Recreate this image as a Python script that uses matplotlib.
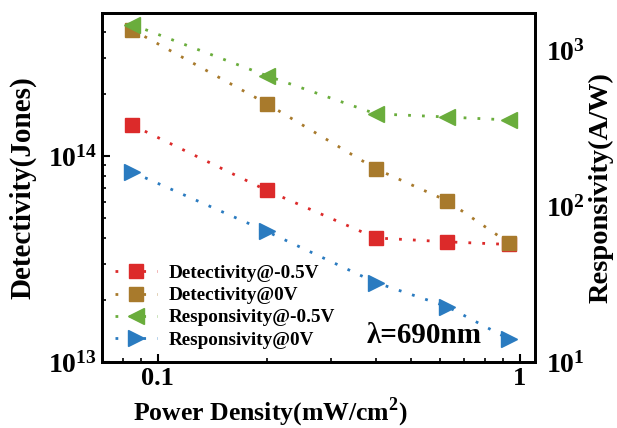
import matplotlib.pyplot as plt
from matplotlib.ticker import LogLocator, NullFormatter

plt.rcParams['font.family'] = ['Liberation Serif', 'DejaVu Serif']
plt.rcParams['font.weight'] = 'bold'
plt.rcParams['mathtext.fontset'] = 'custom'
plt.rcParams['mathtext.rm'] = 'Liberation Serif:bold'
plt.rcParams['mathtext.bf'] = 'Liberation Serif:bold'

# data
power = [0.085, 0.2, 0.4, 0.63, 0.93]
det_m05 = [1.41e14, 6.8e13, 4.0e13, 3.83e13, 3.72e13]
det_0 = [4.09e14, 1.79e14, 8.65e13, 6.05e13, 3.79e13]
res_m05 = [1470, 690, 393, 375, 359]
res_0 = [166, 69, 32.4, 22.7, 14.1]

red = '#dc2a2a'
brown = '#a87a2c'
green = '#6aad3c'
blue = '#2a7bc0'
dots = (0, (1, 4))

fig = plt.figure(figsize=(6.17, 4.28), dpi=100)
ax = fig.add_axes([0.165, 0.154, 0.702, 0.816])
ax2 = ax.twinx()

l1, = ax.plot(power, det_m05, linestyle=dots, lw=2, color=red, marker='s',
              markersize=10, label='Detectivity@-0.5V')
l2, = ax.plot(power, det_0, linestyle=dots, lw=2, color=brown, marker='s',
              markersize=10, label='Detectivity@0V')
l3, = ax2.plot(power, res_m05, linestyle=dots, lw=2, color=green, marker='<',
               markersize=12, label='Responsivity@-0.5V')
l4, = ax2.plot(power, res_0, linestyle=dots, lw=2, color=blue, marker='>',
               markersize=12, label='Responsivity@0V')

ax.set_xscale('log')
ax.set_yscale('log')
ax2.set_yscale('log')
ax.set_xlim(0.07, 1.1)
ax.set_ylim(1e13, 4.94e14)
ax2.set_ylim(10, 1750)

ax.set_xticks([0.1, 1])
ax.set_xticklabels(['0.1', '1'])
ax.xaxis.set_minor_locator(LogLocator(base=10, subs=range(2, 10)))
ax.xaxis.set_minor_formatter(NullFormatter())
ax.set_yticks([1e13, 1e14])
ax.set_yticklabels([r'$\mathbf{10^{13}}$', r'$\mathbf{10^{14}}$'])
ax.yaxis.set_minor_locator(LogLocator(base=10, subs=range(2, 10)))
ax.yaxis.set_minor_formatter(NullFormatter())
ax2.set_yticks([10, 100, 1000])
ax2.set_yticklabels([r'$\mathbf{10^{1}}$', r'$\mathbf{10^{2}}$', r'$\mathbf{10^{3}}$'])
ax2.yaxis.set_minor_formatter(NullFormatter())

ax.tick_params(which='major', direction='in', length=6, width=1.5, labelsize=20)
ax.tick_params(axis='x', labelsize=19)
ax.tick_params(which='minor', direction='in', length=3, width=1.2)
ax2.tick_params(which='both', length=0, labelsize=20, pad=8)

for a in (ax, ax2):
    for s in a.spines.values():
        s.set_linewidth(2)

ax.set_xlabel('Power Density(mW/cm$^2$)', fontsize=18.5, fontweight='bold')
ax.xaxis.set_label_coords(0.39, -0.095)
ax.set_ylabel('Detectivity(Jones)', fontsize=21, fontweight='bold')
ax.yaxis.set_label_coords(-0.152, 0.5)
ax2.set_ylabel('Responsivity(A/W)', fontsize=20.5, fontweight='bold')
ax2.yaxis.set_label_coords(1.124, 0.5)

ax2.text(0.612, 0.054, 'λ=690nm', transform=ax.transAxes, fontsize=21,
         fontweight='bold')

ax2.legend(handles=[l1, l2, l3, l4], loc='lower left', frameon=False,
           fontsize=13.8, handlelength=2.2, handletextpad=0.6,
           labelspacing=0.25, borderaxespad=0.3, bbox_to_anchor=(0.0, 0.0))

fig.savefig('out.png', dpi=100)
